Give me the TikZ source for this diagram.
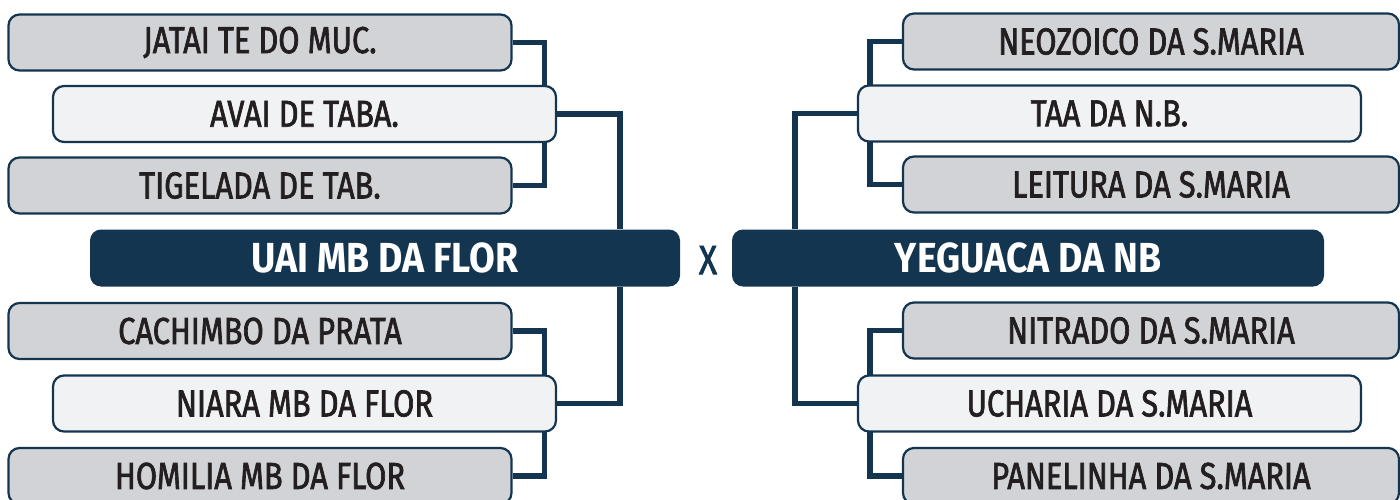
\documentclass[tikz,border=0pt]{standalone}
\usepackage{fontspec}
\setmainfont{Fira Sans}
\newfontfamily\condfont{Fira Sans}[FakeStretch=0.82,FakeBold=1.8]
\newfontfamily\condbold{Fira Sans Bold}[FakeStretch=0.89]
\usetikzlibrary{calc,backgrounds}
\definecolor{navy}{HTML}{14354F}
\definecolor{boxgray}{HTML}{D1D3D6}
\definecolor{boxlight}{HTML}{F1F2F4}
\definecolor{ink}{HTML}{231F20}
\tikzset{
  team/.style={draw=navy, line width=2.2pt, rounded corners=11pt, minimum height=56pt,
    inner sep=0pt, font=\condfont\fontsize{37.5}{37.5}\selectfont, text=ink},
  grayteam/.style={team, fill=boxgray, minimum width=503pt},
  lightteam/.style={team, fill=boxlight, minimum width=503pt},
  finalist/.style={fill=navy, rounded corners=11pt, minimum height=57pt, inner sep=0pt,
    font=\condbold\fontsize{42}{42}\selectfont, text=white},
  link/.style={draw=navy, line width=5.5pt}
}
\begin{document}
\begin{tikzpicture}[x=1pt,y=-1pt]
\useasboundingbox (0,0) rectangle (1400,499);
% left side
\node[grayteam] (jat) at (260,42.5) {JATAI TE DO MUC.};
\node[lightteam] (ava) at (304.5,114) {AVAI DE TABA.};
\node[grayteam] (tig) at (260,185.5) {TIGELADA DE TAB.};
\node[finalist, minimum width=590pt] (uai) at (385,258) {UAI MB DA FLOR};
\node[grayteam] (cac) at (260,331) {CACHIMBO DA PRATA};
\node[lightteam] (nia) at (304.5,403.5) {NIARA MB DA FLOR};
\node[grayteam] (hom) at (260,476) {HOMILIA MB DA FLOR};
% center
\node[font=\condfont\fontsize{41}{41}\selectfont, text=navy] (vs) at (708,260) {X};
% right side
\node[grayteam, minimum width=496pt] (neo) at (1151,41.5) {NEOZOICO DA S.MARIA};
\node[lightteam] (taa) at (1109.5,113.5) {TAA DA N.B.};
\node[grayteam, minimum width=496pt] (lei) at (1151,184.5) {LEITURA DA S.MARIA};
\node[finalist, minimum width=592pt] (yeg) at (1028,258) {YEGUACA DA NB};
\node[grayteam, minimum width=496pt] (nit) at (1151,330.5) {NITRADO DA S.MARIA};
\node[lightteam] (uch) at (1109.5,403.5) {UCHARIA DA S.MARIA};
\node[grayteam, minimum width=496pt] (pan) at (1151,476) {PANELINHA DA S.MARIA};
\begin{scope}[on background layer]
\draw[link] (jat.east) -- ++(32,0) |- (tig.east);
\draw[link] (cac.east) -- ++(32,0) |- (hom.east);
\draw[link] (ava.east) -| ($(uai.north west)+(530,0)$);
\draw[link] (nia.east) -| ($(uai.south west)+(530,0)$);
\draw[link] (neo.west) -- ++(-32,0) |- (lei.west);
\draw[link] (nit.west) -- ++(-32,0) |- (pan.west);
\draw[link] (taa.west) -| ($(yeg.north west)+(63,0)$);
\draw[link] (uch.west) -| ($(yeg.south west)+(63,0)$);
\end{scope}
\end{tikzpicture}
\end{document}
